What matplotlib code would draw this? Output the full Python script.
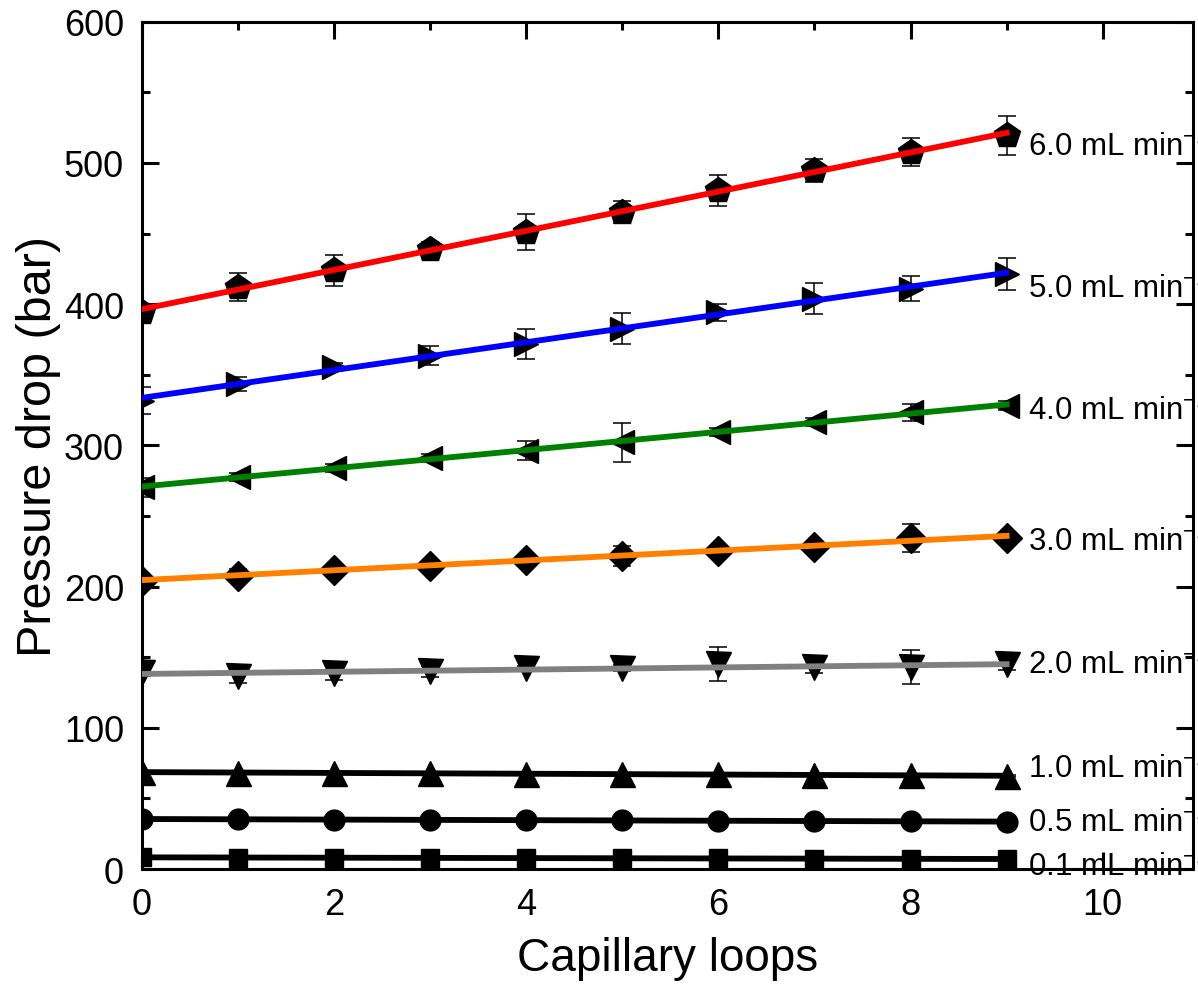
import matplotlib
matplotlib.use('Agg')
import matplotlib.pyplot as plt
import numpy as np
from matplotlib.ticker import MultipleLocator

plt.rcParams['font.family'] = ['Liberation Sans', 'DejaVu Sans']
plt.rcParams['mathtext.fontset'] = 'custom'
plt.rcParams['mathtext.rm'] = 'Liberation Sans'

# capillary loops
loops = [0, 1, 2, 3, 4, 5, 6, 7, 8, 9]

# flow rates (mL/min)
flow_labels = ['0.1', '0.5', '1.0', '2.0', '3.0', '4.0', '5.0', '6.0']

# pressure drop (bar) per flow rate
p01 = [8.3, 8.1, 8.0, 7.9, 7.8, 7.6, 7.5, 7.4, 7.2, 7.1]
p05 = [35.4, 35.2, 35.0, 34.8, 34.6, 34.4, 34.3, 34.0, 33.8, 33.5]
p10 = [68.5, 68.3, 68.0, 67.8, 67.6, 67.3, 67.0, 66.6, 66.3, 65.9]
p20 = [139.5, 137.0, 139.0, 140.0, 142.0, 142.5, 145.0, 143.0, 143.0, 145.0]
p30 = [204.2, 207.8, 212.0, 214.9, 219.1, 221.9, 225.5, 228.3, 234.4, 234.4]
p40 = [270.4, 277.5, 283.9, 291.0, 296.3, 302.3, 309.3, 316.4, 323.5, 328.2]
p50 = [331.7, 343.6, 355.4, 363.6, 371.9, 382.5, 394.3, 403.8, 410.9, 421.5]
p60 = [394.4, 412.1, 423.9, 439.3, 451.1, 465.3, 480.6, 494.8, 507.8, 519.5]

# standard deviations (bar)
e01 = [1.5, 1.5, 1.5, 1.5, 1.5, 1.5, 1.5, 1.5, 1.5, 1.5]
e05 = [1.0, 1.0, 1.0, 1.0, 1.0, 1.0, 1.0, 1.0, 1.0, 1.0]
e10 = [1.0, 1.0, 1.0, 1.0, 1.0, 1.0, 1.0, 1.0, 1.0, 1.0]
e20 = [3.0, 5.0, 5.0, 4.0, 2.0, 2.0, 12.0, 4.0, 12.0, 4.0]
e30 = [3.0, 4.7, 3.0, 3.0, 3.0, 7.0, 3.0, 3.0, 9.8, 3.0]
e40 = [6.7, 3.0, 3.0, 3.0, 6.8, 13.8, 3.0, 3.0, 6.0, 3.0]
e50 = [9.4, 5.0, 3.0, 7.0, 10.5, 11.0, 6.0, 11.0, 9.0, 11.5]
e60 = [3.0, 10.0, 11.0, 5.0, 13.0, 8.0, 11.0, 8.0, 10.0, 14.0]

pressures = [p01, p05, p10, p20, p30, p40, p50, p60]
errors = [e01, e05, e10, e20, e30, e40, e50, e60]

# styling
markers = ['s', 'o', '^', 'v', 'D', '<', '>', 'p']
msizes = [13, 15, 18, 18, 15, 17, 17, 19]
line_colors = ['black', 'black', 'black', '#808080', '#FF8000', '#008000', '#0000FF', '#FF0000']
label_y = [2, 33, 71, 145, 232, 325, 411, 512]

fig = plt.figure(figsize=(11.98, 9.95), dpi=100)
ax = fig.add_axes([0.1185, 0.1256, 0.8773, 0.8516])

x = np.array(loops)
for i in range(len(pressures)):
    y = np.array(pressures[i])
    ax.errorbar(x, y, yerr=errors[i], fmt='none', ecolor='black', elinewidth=1.1,
                capsize=6.8, capthick=1.1, zorder=2)
    ax.plot(x, y, linestyle='none', marker=markers[i], markersize=msizes[i],
            color='black', zorder=3)
    slope, icpt = np.polyfit(x, y, 1)
    ax.plot(x, slope * x + icpt, color=line_colors[i], linewidth=4.2, zorder=4)
    ax.text(9.22, label_y[i], flow_labels[i] + ' mL min$^{\\mathregular{-1}}$',
            fontsize=22.5, va='center', ha='left', zorder=5)

ax.set_xlim(0, 10.94)
ax.set_ylim(0, 600)
ax.xaxis.set_major_locator(MultipleLocator(2))
ax.xaxis.set_minor_locator(MultipleLocator(1))
ax.yaxis.set_major_locator(MultipleLocator(100))
ax.yaxis.set_minor_locator(MultipleLocator(50))
ax.tick_params(which='both', direction='in', top=True, right=True, width=2.2)
ax.tick_params(which='major', length=12, labelsize=26, pad=13)
ax.tick_params(which='minor', length=6)
for sp in ax.spines.values():
    sp.set_linewidth(2.2)

ax.set_xlabel('Capillary loops', fontsize=33, labelpad=10)
ax.set_ylabel('Pressure drop (bar)', fontsize=35, labelpad=2)

fig.savefig('out.png', dpi=100)
